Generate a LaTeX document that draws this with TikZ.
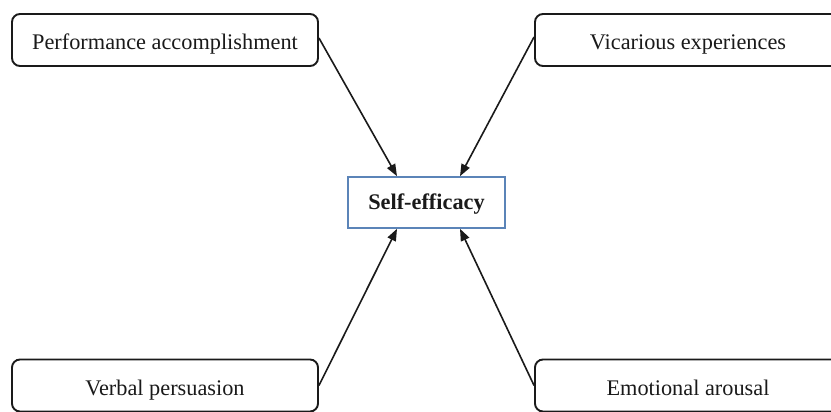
\documentclass[tikz,border=0pt]{standalone}
\usepackage{fontspec}
\setmainfont{Liberation Serif}
\usetikzlibrary{arrows.meta}
\definecolor{boxblue}{HTML}{5B84B8}
\definecolor{ink}{HTML}{1A1A1A}
\tikzset{
  factor/.style={draw=ink, line width=1.9pt, rounded corners=8pt, minimum width=306pt,
    minimum height=52pt, inner sep=0pt, fill=white, text=ink,
    text height=22pt, text depth=2.3pt,
    font=\fontsize{22.3}{26}\selectfont},
  core/.style={draw=boxblue, line width=1.6pt, minimum width=157pt, minimum height=51pt,
    inner sep=0pt, fill=white, text=ink, text height=16pt, text depth=1.3pt,
    font=\fontsize{22.3}{26}\selectfont\bfseries},
  link/.style={draw=ink, line width=1.6pt, -{Triangle[length=12pt,width=9pt]}}
}
\begin{document}
\begin{tikzpicture}[x=1pt,y=-1pt]
\useasboundingbox (0,0) rectangle (831,412);
\clip (0,0) rectangle (831,412);
\fill[white] (0,0) rectangle (831,412);
\node[core] (c) at (426.5,202.5) {Self-efficacy};
\node[factor] (tl) at (165,40) {Performance accomplishment};
\node[factor] (tr) at (688,40) {Vicarious experiences};
\node[factor] (bl) at (165,385.5) {Verbal persuasion};
\node[factor] (br) at (688,385.5) {Emotional arousal};
\draw[link] ([yshift=2pt]tl.east) -- ([xshift=-29.5pt]c.north);
\draw[link] ([yshift=3pt]tr.west) -- ([xshift=33.5pt]c.north);
\draw[link] (bl.east) -- ([xshift=-29.5pt]c.south);
\draw[link] (br.west) -- ([xshift=33.5pt]c.south);
\end{tikzpicture}
\end{document}
